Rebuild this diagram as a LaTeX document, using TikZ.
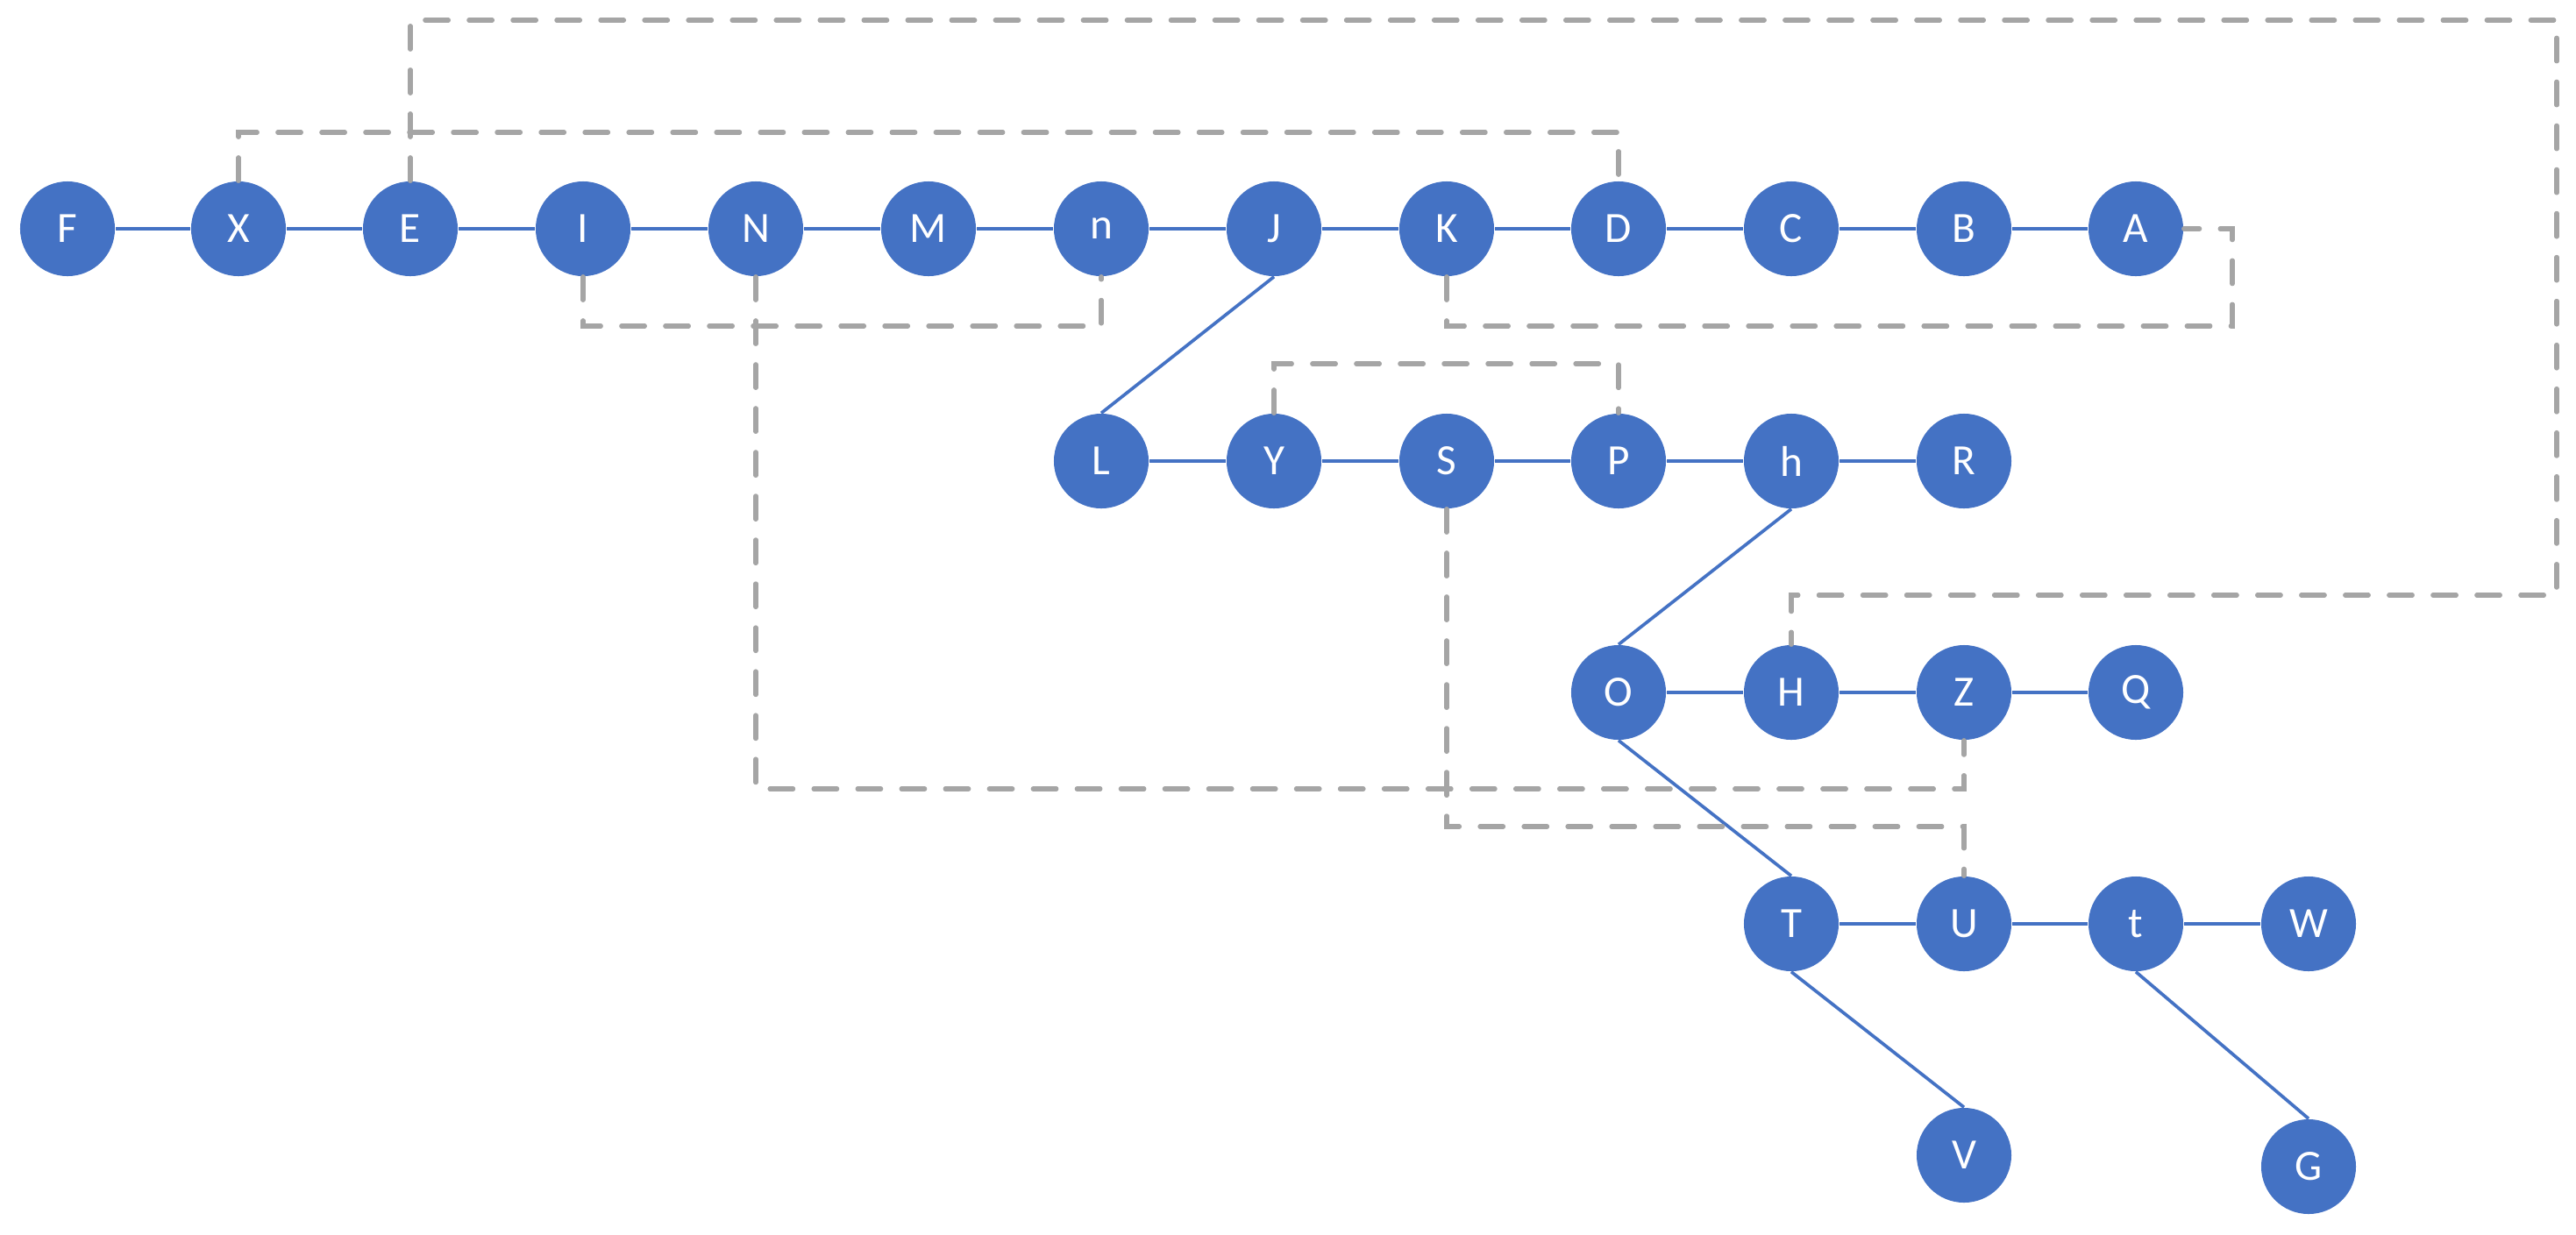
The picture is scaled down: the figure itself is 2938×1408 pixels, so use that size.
\documentclass[tikz,border=0pt]{standalone}
\usepackage{fontspec}
\setmainfont{Carlito}
\definecolor{nodeblue}{HTML}{4472C4}
\definecolor{depgray}{HTML}{A5A5A5}
\begin{document}
\begin{tikzpicture}[x=0.01cm,y=-0.01cm,
  vtx/.style={circle,fill=nodeblue,minimum size=1.08cm,inner sep=0pt,text=white,font=\fontsize{14}{16}\selectfont},
  edge/.style={draw=nodeblue,line width=1.05pt},
  dep/.style={draw=depgray,line width=1.5pt,line cap=round,dash pattern=on 0.265cm off 0.235cm}]
\useasboundingbox (0,0) rectangle (2938,1408);
% row 1
\node[vtx] (F) at (77,261) {F};
\node[vtx] (X) at (272,261) {X};
\node[vtx] (E) at (468,261) {E};
\node[vtx] (I) at (665,261) {I};
\node[vtx] (N) at (862,261) {N};
\node[vtx] (M) at (1059,261) {M};
\node[vtx] (n) at (1256,261) {n};
\node[vtx] (J) at (1453,261) {J};
\node[vtx] (K) at (1650,261) {K};
\node[vtx] (D) at (1846,261) {D};
\node[vtx] (C) at (2043,261) {C};
\node[vtx] (B) at (2240,261) {B};
\node[vtx] (A) at (2436,261) {A};
% row 2
\node[vtx] (L) at (1256,526) {L};
\node[vtx] (Y) at (1453,526) {Y};
\node[vtx] (S) at (1650,526) {S};
\node[vtx] (P) at (1846,526) {P};
\node[vtx] (h) at (2043,526) {h};
\node[vtx] (R) at (2240,526) {R};
% row 3
\node[vtx] (O) at (1846,790) {O};
\node[vtx] (H) at (2043,790) {H};
\node[vtx] (Z) at (2240,790) {Z};
\node[vtx] (Q) at (2436,790) {Q};
% row 4
\node[vtx] (T) at (2043,1054) {T};
\node[vtx] (U) at (2240,1054) {U};
\node[vtx] (t) at (2436,1054) {t};
\node[vtx] (W) at (2633,1054) {W};
% row 5
\node[vtx] (V) at (2240,1318) {V};
\node[vtx] (G) at (2633,1331) {G};
% solid edges
\draw[edge] (F) -- (X); \draw[edge] (X) -- (E); \draw[edge] (E) -- (I);
\draw[edge] (I) -- (N); \draw[edge] (N) -- (M); \draw[edge] (M) -- (n);
\draw[edge] (n) -- (J); \draw[edge] (J) -- (K); \draw[edge] (K) -- (D);
\draw[edge] (D) -- (C); \draw[edge] (C) -- (B); \draw[edge] (B) -- (A);
\draw[edge] (J.south) -- (L.north);
\draw[edge] (L) -- (Y); \draw[edge] (Y) -- (S); \draw[edge] (S) -- (P);
\draw[edge] (P) -- (h); \draw[edge] (h) -- (R);
\draw[edge] (h.south) -- (O.north);
\draw[edge] (O) -- (H); \draw[edge] (H) -- (Z); \draw[edge] (Z) -- (Q);
\draw[edge] (O.south) -- (T.north);
\draw[edge] (T) -- (U); \draw[edge] (U) -- (t); \draw[edge] (t) -- (W);
\draw[edge] (T.south) -- (V.north);
\draw[edge] (t.south) -- (G.north);
% routing levels
\coordinate (lvTop) at (0,23);
\coordinate (lvXD) at (0,151);
\coordinate (lvIn) at (0,372);
\coordinate (lvYP) at (0,415);
\coordinate (lvH) at (0,679);
\coordinate (lvNZ) at (0,900);
\coordinate (lvSU) at (0,943);
\coordinate (rtA) at (2546,0);
\coordinate (rtE) at (2916,0);
% dashed connectors
\draw[dep] (X.north) -- (X.north |- lvXD) -- (D.north |- lvXD) -- (D.north);
\draw[dep] (E.north) -- (E.north |- lvTop) -- (rtE |- lvTop) -- (rtE |- lvH) -- (H.north |- lvH) -- (H.north);
\draw[dep] (I.south) -- (I.south |- lvIn) -- (n.south |- lvIn) -- (n.south);
\draw[dep] (N.south) -- (N.south |- lvNZ) -- (Z.south |- lvNZ) -- (Z.south);
\draw[dep] (K.south) -- (K.south |- lvIn) -- (rtA |- lvIn) -- (rtA |- A.east) -- (A.east);
\draw[dep] (Y.north) -- (Y.north |- lvYP) -- (P.north |- lvYP) -- (P.north);
\draw[dep] (S.south) -- (S.south |- lvSU) -- (U.north |- lvSU) -- (U.north);
\end{tikzpicture}
\end{document}
